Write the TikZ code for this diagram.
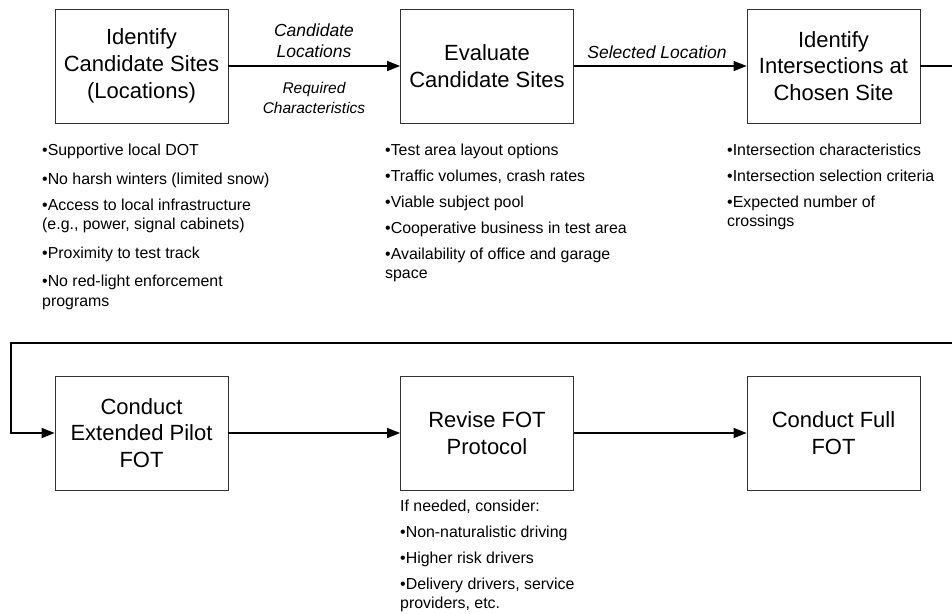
\documentclass[tikz,border=0pt]{standalone}
\usepackage{fontspec}
\setmainfont{Liberation Sans}
\usetikzlibrary{arrows.meta}
\begin{document}
\begin{tikzpicture}[x=1pt,y=-1pt,
  box/.style={draw=black!80,line width=0.8pt,minimum width=173pt,minimum height=114pt,inner sep=0pt,align=center,font=\fontsize{22}{26.7}\selectfont},
  flow/.style={line width=1.5pt,-{Triangle[length=13pt,width=10pt]}},
  item/.style={anchor=base west,inner sep=0pt,font=\fontsize{15.9}{19.5}\selectfont},
  lab/.style={align=center,inner sep=0pt,font=\fontsize{17.5}{21}\selectfont\itshape},
  labs/.style={align=center,inner sep=0pt,font=\fontsize{15.5}{20}\selectfont\itshape}]
\useasboundingbox (0,0) rectangle (952,613);
\clip (0,0) rectangle (952,613);
\fill[white] (0,0) rectangle (952,613);
% boxes
\node[box] (b1) at (141.5,66) {Identify\\Candidate Sites\\(Locations)};
\node[box] (b2) at (487,66) {Evaluate\\Candidate Sites};
\node[box] (b3) at (833.5,66) {Identify\\Intersections at\\Chosen Site};
\node[box] (b4) at (141.5,433) {Conduct\\Extended Pilot\\FOT};
\node[box] (b5) at (487,433) {Revise FOT\\Protocol};
\node[box] (b6) at (833.5,433) {Conduct Full\\FOT};
% connector labels
\node[lab] (t1) at (314,40.5) {Candidate\\Locations};
\node[labs] (t2) at (314,98) {Required\\Characteristics};
\node[lab] (t3) at (657,52) {Selected Location};
% connectors
\coordinate (r1) at (965,66);
\coordinate (r2) at (965,343);
\coordinate (r3) at (11,343);
\coordinate (r4) at (11,433);
\draw[flow] (b1.east) -- (b2.west);
\draw[flow] (b2.east) -- (b3.west);
\draw[flow] (b3.east) -- (r1) -- (r2) -- (r3) -- (r4) -- (b4.west);
\draw[flow] (b4.east) -- (b5.west);
\draw[flow] (b5.east) -- (b6.west);
% list 1
\node[item] (a1) at (42,155.7) {•Supportive local DOT};
\node[item] (a2) at (42,184) {•No harsh winters (limited snow)};
\node[item] (a3) at (42,210.7) {•Access to local infrastructure};
\node[item] (a4) at (42,229.8) {(e.g., power, signal cabinets)};
\node[item] (a5) at (42,258.3) {•Proximity to test track};
\node[item] (a6) at (42,286.7) {•No red-light enforcement};
\node[item] (a7) at (42,306) {programs};
% list 2
\node[item] (c1) at (385,155.7) {•Test area layout options};
\node[item] (c2) at (385,181.5) {•Traffic volumes, crash rates};
\node[item] (c3) at (385,207.5) {•Viable subject pool};
\node[item] (c4) at (385,233.3) {•Cooperative business in test area};
\node[item] (c5) at (385,259) {•Availability of office and garage};
\node[item] (c6) at (385,278.3) {space};
% list 3
\node[item] (e1) at (727,155.7) {•Intersection characteristics};
\node[item] (e2) at (727,181.5) {•Intersection selection criteria};
\node[item] (e3) at (727,207.5) {•Expected number of};
\node[item] (e4) at (727,226.7) {crossings};
% list 4
\node[item] (d1) at (400,511) {If needed, consider:};
\node[item] (d2) at (400,537.3) {•Non-naturalistic driving};
\node[item] (d3) at (400,563.3) {•Higher risk drivers};
\node[item] (d4) at (400,589.3) {•Delivery drivers, service};
\node[item] (d5) at (400,608.3) {providers, etc.};
\end{tikzpicture}
\end{document}
